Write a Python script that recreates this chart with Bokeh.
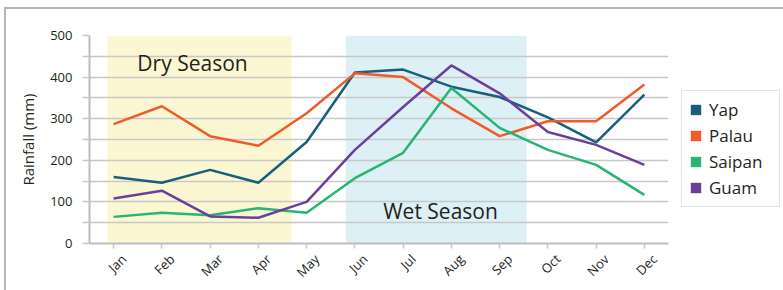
from math import pi
from bokeh.plotting import figure
from bokeh.layouts import row
from bokeh.models import (Range1d, FixedTicker, BoxAnnotation, Label,
                          LinearAxis, Legend, LegendItem)
from bokeh.embed import file_html
from bokeh.resources import INLINE

months = ["Jan", "Feb", "Mar", "Apr", "May", "Jun", "Jul", "Aug", "Sep", "Oct", "Nov", "Dec"]
series_names = ["Yap", "Palau", "Saipan", "Guam"]
yap = [160, 146, 177, 146, 244, 411, 418, 377, 352, 303, 243, 358]
palau = [287, 330, 258, 235, 313, 409, 400, 325, 258, 294, 294, 382]
saipan = [64, 74, 68, 85, 74, 157, 218, 374, 278, 225, 189, 117]
guam = [108, 127, 65, 62, 100, 225, 328, 428, 361, 268, 237, 189]
series_values = [yap, palau, saipan, guam]
colors = ["#185f7c", "#f15a2b", "#28b574", "#6b3f9c"]

y_ticks = [0, 50, 100, 150, 200, 250, 300, 350, 400, 450, 500]
y_labels = {t: (str(t) if t % 100 == 0 else "") for t in y_ticks}

FONT = "Open Sans"
TXT = "#231f20"
GRID = "#c8c8c8"
AX = "#bdbdbd"

idx = list(range(len(months)))

p = figure(x_range=Range1d(-0.5, len(months) - 0.5), y_range=Range1d(0, 500),
           width=669, height=281, output_backend="svg", toolbar_location=None,
           min_border_left=83, min_border_right=7, min_border_top=26, min_border_bottom=46)
p.outline_line_color = None
p.background_fill_color = "white"
p.border_fill_color = "white"

# season shading
p.add_layout(BoxAnnotation(left=-0.13, right=3.69, fill_color="#fbf7d3", fill_alpha=1,
                           line_color=None, level="image"))
p.add_layout(BoxAnnotation(left=4.81, right=8.56, fill_color="#dcf0f5", fill_alpha=1,
                           line_color=None, level="image"))

# grid
p.xgrid.grid_line_color = None
p.ygrid.ticker = FixedTicker(ticks=y_ticks)
p.ygrid.grid_line_color = GRID
p.ygrid.grid_line_width = 1.5

# y axis
p.yaxis.ticker = FixedTicker(ticks=y_ticks)
p.yaxis.major_label_overrides = y_labels
p.yaxis.axis_line_color = AX
p.yaxis.axis_line_width = 2
p.yaxis.major_tick_line_color = GRID
p.yaxis.major_tick_line_width = 1.5
p.yaxis.major_tick_out = 7
p.yaxis.major_tick_in = 0
p.yaxis.minor_tick_line_color = None
p.yaxis.major_label_text_font = FONT
p.yaxis.major_label_text_font_size = "13px"
p.yaxis.major_label_text_color = TXT
p.yaxis.major_label_standoff = 10
p.yaxis.axis_label = "Rainfall (mm)"
p.yaxis.axis_label_text_font = FONT
p.yaxis.axis_label_text_font_size = "15px"
p.yaxis.axis_label_text_font_style = "normal"
p.yaxis.axis_label_text_color = TXT
p.yaxis.axis_label_standoff = 9

# x axis: ticks only
p.xaxis.ticker = FixedTicker(ticks=idx)
p.xaxis.major_label_overrides = {i: "" for i in idx}
p.xaxis.axis_line_color = AX
p.xaxis.axis_line_width = 2
p.xaxis.major_tick_line_color = GRID
p.xaxis.major_tick_line_width = 1.5
p.xaxis.major_tick_out = 5
p.xaxis.major_tick_in = 0
p.xaxis.minor_tick_line_color = None
p.xaxis.major_label_standoff = 0

# month labels: a label-only axis on a slightly shifted scale so the
# rotated labels sit centred under their ticks
shift = 0.21
p.extra_x_ranges = {"lab": Range1d(-0.5 - shift, len(months) - 0.5 - shift)}
lab_axis = LinearAxis(x_range_name="lab", ticker=FixedTicker(ticks=idx),
                      major_label_overrides={i: m for i, m in zip(idx, months)},
                      axis_line_color=None, major_tick_line_color=None, minor_tick_line_color=None,
                      major_label_orientation=pi / 4, major_label_standoff=2,
                      major_label_text_font=FONT, major_label_text_font_size="13px",
                      major_label_text_color=TXT)
p.add_layout(lab_axis, "below")

# season labels
p.add_layout(Label(x=1.635, y=433, text="Dry Season", text_align="center", text_baseline="middle",
                   text_font=FONT, text_font_size="21px", text_color=TXT))
p.add_layout(Label(x=6.775, y=77, text="Wet Season", text_align="center", text_baseline="middle",
                   text_font=FONT, text_font_size="21px", text_color=TXT))

for vals, c in zip(series_values, colors):
    p.line(idx, vals, line_color=c, line_width=2.5)

# legend figure
p2 = figure(width=108, height=281, x_range=Range1d(0, 1), y_range=Range1d(0, 1),
            x_axis_location=None, y_axis_location=None, output_backend="svg",
            toolbar_location=None, min_border=0)
p2.outline_line_color = None
p2.grid.visible = False
p2.background_fill_color = "white"
p2.border_fill_color = "white"
items = []
for name, c in zip(series_names, colors):
    r = p2.quad(left=[2], right=[3], top=[3], bottom=[2], fill_color=c, line_color=None)
    items.append(LegendItem(label=name, renderers=[r]))

legend = Legend(items=items, location=(6, 36), glyph_width=13, glyph_height=13,
                label_standoff=7, spacing=3, padding=7, margin=0, label_width=63,
                label_height=13, border_line_color=GRID, border_line_width=1.5,
                background_fill_color="white", background_fill_alpha=1,
                label_text_font=FONT, label_text_font_size="17px", label_text_color=TXT)
p2.add_layout(legend)

lay = row(p, p2, styles={"margin-left": "4px", "margin-top": "7px",
                         "border-left": "2px solid #b5b5b5", "border-top": "2px solid #b5b5b5"})

open("out.html", "w").write(file_html(lay, INLINE))
